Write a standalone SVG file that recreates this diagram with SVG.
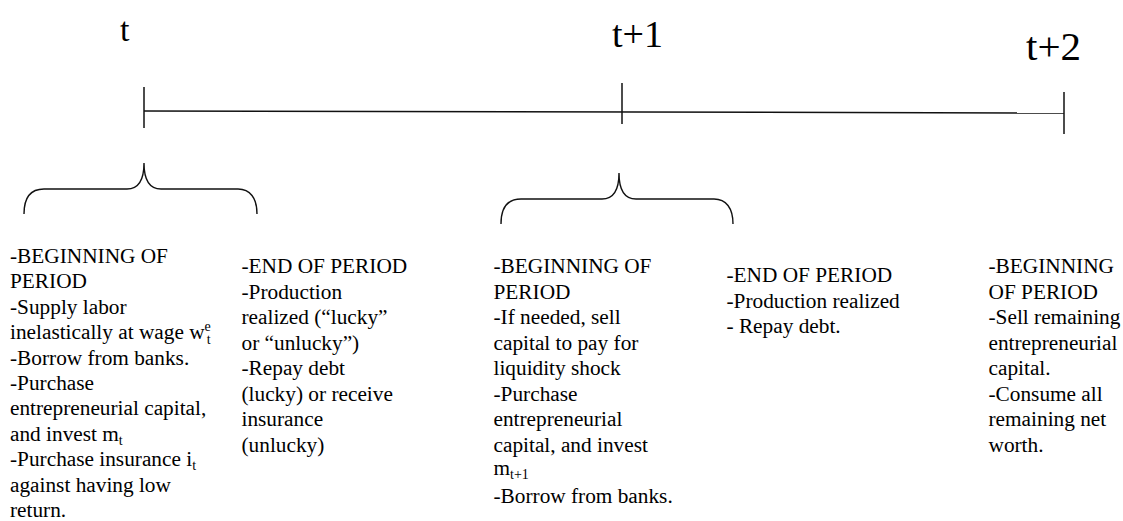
<svg xmlns="http://www.w3.org/2000/svg" width="1123" height="521" viewBox="0 0 1123 521">
<style>
.tx{font-family:'Liberation Serif','Times New Roman',serif;font-size:21.3px;fill:#000}
.lab{font-family:'Liberation Serif','Times New Roman',serif;fill:#000}
.sm{font-size:14px}
.ln{stroke:#111;stroke-width:1.5;fill:none}
.br{stroke:#111;stroke-width:1.4;fill:none}
</style>
<rect width="1123" height="521" fill="#fff"/>
<g id="connectors">
<line class="ln" x1="144" y1="111" x2="1064" y2="113"/>
<line class="ln" x1="144" y1="87" x2="144" y2="128"/>
<line class="ln" x1="622" y1="83" x2="622" y2="124"/>
<line class="ln" x1="1064" y1="92" x2="1064" y2="134"/>
</g>
<g font-family="Liberation Serif, serif" fill="#000">
<g id="label-t"><text class="lab" x="120" y="41" font-size="34">t</text></g>
<g id="label-t1"><text class="lab" x="612" y="47" font-size="38">t+1</text></g>
<g id="label-t2"><text class="lab" x="1026" y="60" font-size="41">t+2</text></g>
<g id="brace-t"><path class="br" d="M24,214 C24,198 30,189 44,189 L127,189 C137,189 144,182 144,163 C144,182 151,189 161,189 L238,189 C250,189 257,198 257,214"/></g>
<g id="brace-t1"><path class="br" d="M501,224 C501,208 507,199 521,199 L602,199 C612,199 619,192 619,173 C619,192 626,199 636,199 L714,199 C726,199 733,208 733,224"/></g>
<g id="block-begin-t">
<text class="tx" x="10" y="263">-BEGINNING OF</text>
<text class="tx" x="10" y="288.4">PERIOD</text>
<text class="tx" x="10" y="313.8">-Supply labor</text>
<text class="tx" x="10" y="339.2">inelastically at wage w<tspan class="sm" dy="-8">e</tspan><tspan class="sm" dx="-4" dy="13">t</tspan></text>
<text class="tx" x="10" y="364.6">-Borrow from banks.</text>
<text class="tx" x="10" y="390">-Purchase</text>
<text class="tx" x="10" y="415.4">entrepreneurial capital,</text>
<text class="tx" x="10" y="440.8">and invest m<tspan class="sm" dy="4">t</tspan></text>
<text class="tx" x="10" y="466.2">-Purchase insurance i<tspan class="sm" dy="4">t</tspan></text>
<text class="tx" x="10" y="491.6">against having low</text>
<text class="tx" x="10" y="517">return.</text>
</g>
<g id="block-end-t">
<text class="tx" x="241.5" y="273">-END OF PERIOD</text>
<text class="tx" x="241.5" y="298.5">-Production</text>
<text class="tx" x="241.5" y="324">realized (“lucky”</text>
<text class="tx" x="241.5" y="349.5">or “unlucky”)</text>
<text class="tx" x="241.5" y="375">-Repay debt</text>
<text class="tx" x="241.5" y="400.5">(lucky) or receive</text>
<text class="tx" x="241.5" y="426">insurance</text>
<text class="tx" x="241.5" y="451.5">(unlucky)</text>
</g>
<g id="block-begin-t1">
<text class="tx" x="493.5" y="273">-BEGINNING OF</text>
<text class="tx" x="493.5" y="298.5">PERIOD</text>
<text class="tx" x="493.5" y="324">-If needed, sell</text>
<text class="tx" x="493.5" y="349.5">capital to pay for</text>
<text class="tx" x="493.5" y="375">liquidity shock</text>
<text class="tx" x="493.5" y="400.5">-Purchase</text>
<text class="tx" x="493.5" y="426">entrepreneurial</text>
<text class="tx" x="493.5" y="451.5">capital, and invest</text>
<text class="tx" x="493.5" y="475">m<tspan class="sm" dy="4">t+1</tspan></text>
<text class="tx" x="493.5" y="503">-Borrow from banks.</text>
</g>
<g id="block-end-t1">
<text class="tx" x="726.5" y="282">-END OF PERIOD</text>
<text class="tx" x="726.5" y="307.5">-Production realized</text>
<text class="tx" x="726.5" y="333">- Repay debt.</text>
</g>
<g id="block-begin-t2">
<text class="tx" x="988.5" y="273">-BEGINNING</text>
<text class="tx" x="988.5" y="298.5">OF PERIOD</text>
<text class="tx" x="988.5" y="324">-Sell remaining</text>
<text class="tx" x="988.5" y="349.5">entrepreneurial</text>
<text class="tx" x="988.5" y="375">capital.</text>
<text class="tx" x="988.5" y="400.5">-Consume all</text>
<text class="tx" x="988.5" y="426">remaining net</text>
<text class="tx" x="988.5" y="451.5">worth.</text>
</g>
</g>
</svg>
